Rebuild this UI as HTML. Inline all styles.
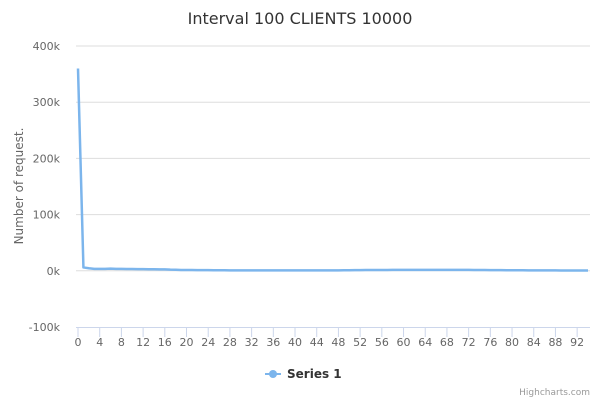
<!DOCTYPE html>
<html><head><meta charset="utf-8"><style>
body{margin:0;background:#fff;}
svg{display:block;font-family:"DejaVu Sans","Liberation Sans",sans-serif;}
</style></head><body>
<svg id="chart" width="600" height="400">
<text x="300" y="24" text-anchor="middle" font-size="16" fill="#333">Interval 100 CLIENTS 10000</text>
<text transform="translate(23,186) rotate(-90)" text-anchor="middle" font-size="12" fill="#666">Number of request.</text>
<g id="grid"></g><g id="xaxis"></g><g id="series"></g>
<g>
<line x1="265" y1="374" x2="281" y2="374" stroke="#7cb5ec" stroke-width="2"/>
<circle cx="273" cy="374" r="4" fill="#7cb5ec"/>
<text x="287" y="378" font-size="12" font-weight="bold" fill="#333">Series 1</text>
</g>
<text x="590" y="395" text-anchor="end" font-size="9" fill="#999">Highcharts.com</text>
</svg>
<script>
const yTicks=[-100000,0,100000,200000,300000,400000];
const yTickLabels=["-100k","0k","100k","200k","300k","400k"];
const xTicks=[0,4,8,12,16,20,24,28,32,36,40,44,48,52,56,60,64,68,72,76,80,84,88,92];
const values=[360000,6000,4500,3500,3500,3500,3800,3500,3500,3300,3200,3000,3000,2800,2800,2600,2500,2000,1800,1500,1500,1400,1300,1200,1100,1000,900,900,800,800,800,800,800,800,800,800,800,800,800,800,800,800,800,800,800,800,800,800,800,900,1000,1200,1300,1400,1400,1500,1500,1500,1600,1600,1600,1600,1600,1700,1700,1700,1700,1700,1700,1600,1600,1600,1600,1500,1500,1400,1300,1200,1100,1000,1000,900,900,800,800,800,700,700,700,600,600,600,600,500,500];
const NS="http://www.w3.org/2000/svg";
const L=78,R=588,xMax=94,yTop=46,yBot=327,yMin=-100000,yMaxV=400000;
const xs=v=>L+v/xMax*(R-L);
const ys=v=>yBot-(v-yMin)/(yMaxV-yMin)*(yBot-yTop);
const grid=document.getElementById('grid'),xa=document.getElementById('xaxis'),se=document.getElementById('series');
function mk(tag,attrs,parent){const e=document.createElementNS(NS,tag);for(const k in attrs)e.setAttribute(k,attrs[k]);parent.appendChild(e);return e;}
yTicks.forEach((t,i)=>{
 if(t!==yMin){const g=mk('line',{x1:76,x2:590,y1:ys(t),y2:ys(t),stroke:'#dddddd'},grid);
 
 }
 const tx=mk('text',{x:60,y:ys(t)+4,'text-anchor':'end','font-size':11,fill:'#666'},grid);
 tx.textContent=yTickLabels[i];
 
 
});
const ax=mk('line',{x1:76,x2:590,y1:327.5,y2:327.5,stroke:'#ccd6eb'},xa);


xTicks.forEach(t=>{
 mk('line',{x1:xs(t),x2:xs(t),y1:327,y2:337,stroke:'#ccd6eb'},xa);
 const tx=mk('text',{x:xs(t),y:346,'text-anchor':'middle','font-size':11,fill:'#666'},xa);
 tx.textContent=t;
 
 
});
const p=mk('path',{d:values.map((v,i)=>(i?'L':'M')+xs(i)+','+ys(v)).join(''),fill:'none',stroke:'#7cb5ec','stroke-width':2.5,'stroke-linejoin':'round'},se);


</script>
</body></html>
